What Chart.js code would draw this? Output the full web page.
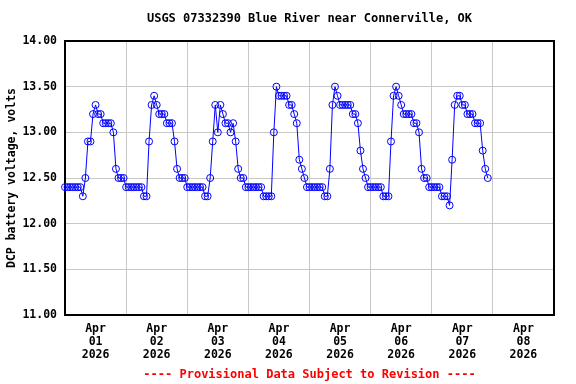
<!DOCTYPE html>
<html>
<head>
<meta charset="utf-8">
<script src="https://cdn.jsdelivr.net/npm/chart.js@4.4.0/dist/chart.umd.min.js"></script>
<style>
  body { margin: 0; background: #fff; }
</style>
</head>
<body>
<canvas id="chart" width="576" height="384"></canvas>
<script>
// hourly DCP battery voltage, starting Apr 01 00:00
const firstHour = 0;
const voltage = [
  // Apr 01
  12.4, 12.4, 12.4, 12.4, 12.4, 12.4, 12.4, 12.3, 12.5, 12.9, 12.9, 13.2,
  13.3, 13.2, 13.2, 13.1, 13.1, 13.1, 13.1, 13.0, 12.6, 12.5, 12.5, 12.5,
  // Apr 02
  12.4, 12.4, 12.4, 12.4, 12.4, 12.4, 12.4, 12.3, 12.3, 12.9, 13.3, 13.4,
  13.3, 13.2, 13.2, 13.2, 13.1, 13.1, 13.1, 12.9, 12.6, 12.5, 12.5, 12.5,
  // Apr 03
  12.4, 12.4, 12.4, 12.4, 12.4, 12.4, 12.4, 12.3, 12.3, 12.5, 12.9, 13.3,
  13.0, 13.3, 13.2, 13.1, 13.1, 13.0, 13.1, 12.9, 12.6, 12.5, 12.5, 12.4,
  // Apr 04
  12.4, 12.4, 12.4, 12.4, 12.4, 12.4, 12.3, 12.3, 12.3, 12.3, 13.0, 13.5,
  13.4, 13.4, 13.4, 13.4, 13.3, 13.3, 13.2, 13.1, 12.7, 12.6, 12.5, 12.4,
  // Apr 05
  12.4, 12.4, 12.4, 12.4, 12.4, 12.4, 12.3, 12.3, 12.6, 13.3, 13.5, 13.4,
  13.3, 13.3, 13.3, 13.3, 13.3, 13.2, 13.2, 13.1, 12.8, 12.6, 12.5, 12.4,
  // Apr 06
  12.4, 12.4, 12.4, 12.4, 12.4, 12.3, 12.3, 12.3, 12.9, 13.4, 13.5, 13.4,
  13.3, 13.2, 13.2, 13.2, 13.2, 13.1, 13.1, 13.0, 12.6, 12.5, 12.5, 12.4,
  // Apr 07
  12.4, 12.4, 12.4, 12.4, 12.3, 12.3, 12.3, 12.2, 12.7, 13.3, 13.4, 13.4,
  13.3, 13.3, 13.2, 13.2, 13.2, 13.1, 13.1, 13.1, 12.8, 12.6, 12.5
];
const hours = voltage.map((v, i) => firstHour + i);

const monthLabel = 'Apr';
const dayLabels = ['01', '02', '03', '04', '05', '06', '07', '08'];
const yearLabel = '2026';
const labelHours = [12, 36, 60, 84, 108, 132, 156, 180];   // noon of each day
const yTicks = [11.0, 11.5, 12.0, 12.5, 13.0, 13.5, 14.0];

const monoFont = "'DejaVu Sans Mono', 'Liberation Mono', monospace";
Chart.defaults.color = '#000';

// black frame round the plot
const plotBox = {
  id: 'plotBox',
  beforeDatasetsDraw(chart) {
    const { ctx, chartArea: a } = chart;
    ctx.save();
    ctx.strokeStyle = '#000';
    ctx.lineWidth = 2;
    ctx.strokeRect(a.left, a.top, a.right - a.left, a.bottom - a.top);
    ctx.restore();
  }
};

new Chart(document.querySelector('#chart'), {
  type: 'line',
  data: {
    labels: hours,
    datasets: [{
      data: voltage,
      borderColor: '#0000ff',
      borderWidth: 1,
      tension: 0,
      pointStyle: 'circle',
      pointRadius: 3.5,
      pointBorderWidth: 1,
      pointBorderColor: '#0000ff',
      pointBackgroundColor: 'rgba(0,0,0,0)',
      clip: false
    }]
  },
  options: {
    responsive: false,
    animation: false,
    layout: { padding: { right: 22 } },
    plugins: {
      legend: { display: false },
      tooltip: { enabled: false },
      title: {
        display: true,
        text: 'USGS 07332390 Blue River near Connerville, OK',
        fullSize: false,
        font: { family: monoFont, size: 12, weight: 'bold', lineHeight: 1.2 },
        padding: { top: 12, bottom: 14.6 }
      },
      subtitle: {
        display: true,
        position: 'bottom',
        text: '---- Provisional Data Subject to Revision ----',
        color: '#ff0000',
        fullSize: false,
        font: { family: monoFont, size: 12, weight: 'bold', lineHeight: 1.2 },
        padding: { top: 3, bottom: 1.6 }
      }
    },
    scales: {
      x: {
        type: 'linear',
        min: 0,
        max: 192,
        afterBuildTicks(scale) {
          scale.ticks = labelHours.map(v => ({ value: v }));
        },
        afterFit(scale) { scale.height = 50; },
        grid: { color: '#c8c8c8', offset: true, drawTicks: false },
        border: { display: false },
        ticks: {
          autoSkip: false,
          maxRotation: 0,
          padding: 8,
          font: { family: monoFont, size: 11.5, weight: 'bold', lineHeight: 1.13 },
          callback(value) {
            const i = labelHours.indexOf(value);
            return [monthLabel, dayLabels[i], yearLabel];
          }
        }
      },
      y: {
        min: 11,
        max: 14,
        afterBuildTicks(scale) {
          scale.ticks = yTicks.map(v => ({ value: v }));
        },
        afterFit(scale) { scale.width = 65; },
        grid: { color: '#c8c8c8', drawTicks: false },
        border: { display: false },
        ticks: {
          padding: 8,
          font: { family: monoFont, size: 11.5, weight: 'bold' },
          callback: v => v.toFixed(2)
        },
        title: {
          display: true,
          text: 'DCP battery voltage, volts',
          font: { family: monoFont, size: 11.5, weight: 'bold', lineHeight: 1.2 },
          padding: { top: 5, bottom: 0 }
        }
      }
    }
  },
  plugins: [plotBox]
});
</script>
</body>
</html>
